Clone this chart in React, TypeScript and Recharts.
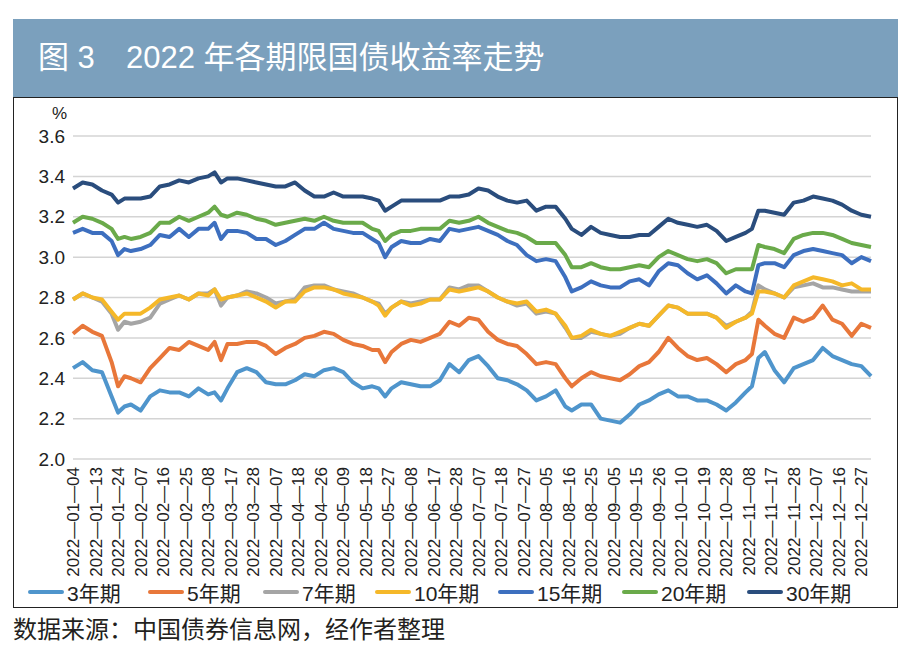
import { LineChart, Line, XAxis, YAxis, CartesianGrid } from 'recharts';

// trading-day index (0 = 2022-01-04, 248 = 2022-12-30)
const idx = [
  0, 3, 6, 9, 12,
  14, 16, 18,
  21, 24, 27, 30, 33, 36, 39, 42,
  44, 46, 48,
  51, 54, 57, 60, 63, 66, 69, 72, 75, 78, 81, 84, 87, 90, 93,
  95, 97, 99,
  102, 105, 108, 111, 114, 117, 120, 123, 126, 129, 132, 135, 138, 141, 144, 147, 150, 153,
  155, 158, 161, 164, 167, 170, 173, 176, 179, 182, 185, 188, 191, 194, 197, 200, 203, 206, 209,
  211, 213, 215,
  218, 221, 224, 227, 230, 233, 236, 239, 242, 245, 248,
];

const y3 = [
  2.45, 2.48, 2.44, 2.43, 2.31,
  2.23, 2.26, 2.27,
  2.24, 2.31, 2.34, 2.33, 2.33, 2.31, 2.35, 2.32,
  2.33, 2.29, 2.35,
  2.43, 2.45, 2.43, 2.38, 2.37, 2.37, 2.39, 2.42, 2.41, 2.44, 2.45, 2.43, 2.38, 2.35, 2.36,
  2.35, 2.31, 2.35,
  2.38, 2.37, 2.36, 2.36, 2.39, 2.47, 2.43, 2.49, 2.51, 2.46, 2.40, 2.39, 2.37, 2.34, 2.29, 2.31, 2.34, 2.26,
  2.24, 2.27, 2.27, 2.20, 2.19, 2.18, 2.22, 2.27, 2.29, 2.32, 2.34, 2.31, 2.31, 2.29, 2.29, 2.27, 2.24, 2.28, 2.33,
  2.36, 2.50, 2.53,
  2.44, 2.38, 2.45, 2.47, 2.49, 2.55, 2.51, 2.49, 2.47, 2.46, 2.41,
];

const y5 = [
  2.62, 2.66, 2.63, 2.61, 2.48,
  2.36, 2.41, 2.40,
  2.38, 2.45, 2.50, 2.55, 2.54, 2.58, 2.56, 2.54,
  2.58, 2.49, 2.57,
  2.57, 2.58, 2.58, 2.56, 2.52, 2.55, 2.57, 2.60, 2.61, 2.63, 2.62, 2.59, 2.57, 2.56, 2.54,
  2.54, 2.48, 2.53,
  2.57, 2.59, 2.58, 2.60, 2.62, 2.68, 2.66, 2.70, 2.69, 2.63, 2.59, 2.57, 2.56, 2.52, 2.47, 2.48, 2.47, 2.40,
  2.36, 2.40, 2.43, 2.41, 2.40, 2.39, 2.42, 2.46, 2.48, 2.53, 2.60, 2.55, 2.51, 2.49, 2.50, 2.47, 2.43, 2.47, 2.49,
  2.52, 2.69, 2.66,
  2.62, 2.60, 2.70, 2.68, 2.70, 2.76, 2.69, 2.67, 2.61, 2.67, 2.65,
];

const y7 = [
  2.79, 2.82, 2.80, 2.78, 2.72,
  2.64, 2.68, 2.67,
  2.68, 2.70, 2.77, 2.79, 2.81, 2.79, 2.82, 2.82,
  2.84, 2.76, 2.80,
  2.81, 2.83, 2.82, 2.80, 2.77, 2.78, 2.79, 2.85, 2.86, 2.86, 2.84, 2.83, 2.82, 2.80, 2.78,
  2.77, 2.72, 2.75,
  2.78, 2.77, 2.78, 2.79, 2.79, 2.85, 2.84, 2.86, 2.86, 2.83, 2.80, 2.78, 2.76, 2.77, 2.72, 2.73, 2.72, 2.65,
  2.60, 2.60, 2.63, 2.62, 2.61, 2.62, 2.65, 2.67, 2.66, 2.71, 2.76, 2.75, 2.72, 2.72, 2.72, 2.70, 2.66, 2.68, 2.70,
  2.73, 2.86, 2.84,
  2.82, 2.80, 2.85, 2.86, 2.87, 2.85, 2.85, 2.84, 2.83, 2.83, 2.83,
];

const y10 = [
  2.79, 2.82, 2.80, 2.79, 2.73,
  2.69, 2.72, 2.72,
  2.72, 2.75, 2.79, 2.80, 2.81, 2.79, 2.82, 2.81,
  2.84, 2.79, 2.80,
  2.81, 2.82, 2.80, 2.78, 2.75, 2.78, 2.78, 2.83, 2.85, 2.85, 2.84, 2.82, 2.81, 2.80, 2.78,
  2.76, 2.71, 2.75,
  2.78, 2.76, 2.77, 2.79, 2.79, 2.84, 2.83, 2.84, 2.85, 2.83, 2.80, 2.78, 2.77, 2.78, 2.73, 2.74, 2.72, 2.66,
  2.60, 2.61, 2.64, 2.62, 2.61, 2.63, 2.65, 2.67, 2.66, 2.71, 2.76, 2.75, 2.72, 2.72, 2.72, 2.70, 2.65, 2.68, 2.70,
  2.72, 2.83, 2.83,
  2.82, 2.80, 2.86, 2.88, 2.90, 2.89, 2.88, 2.86, 2.87, 2.84, 2.84,
];

const y15 = [
  3.12, 3.14, 3.12, 3.12, 3.08,
  3.01, 3.04, 3.03,
  3.04, 3.06, 3.11, 3.10, 3.14, 3.10, 3.14, 3.14,
  3.17, 3.09, 3.13,
  3.13, 3.12, 3.09, 3.09, 3.06, 3.08, 3.11, 3.14, 3.14, 3.17, 3.14, 3.13, 3.12, 3.12, 3.09,
  3.07, 3.00, 3.05,
  3.08, 3.07, 3.07, 3.09, 3.08, 3.14, 3.13, 3.14, 3.15, 3.13, 3.11, 3.08, 3.06, 3.01, 2.98, 2.99, 2.98, 2.90,
  2.83, 2.85, 2.88, 2.86, 2.85, 2.85, 2.88, 2.89, 2.86, 2.93, 2.97, 2.96, 2.92, 2.89, 2.91, 2.87, 2.82, 2.86, 2.83,
  2.82, 2.96, 2.97,
  2.97, 2.95, 3.01, 3.03, 3.04, 3.03, 3.02, 3.01, 2.97, 3.00, 2.98,
];

const y20 = [
  3.17, 3.20, 3.19, 3.17, 3.14,
  3.09, 3.10, 3.09,
  3.10, 3.12, 3.17, 3.17, 3.20, 3.18, 3.20, 3.22,
  3.25, 3.21, 3.20,
  3.22, 3.21, 3.19, 3.18, 3.16, 3.17, 3.18, 3.19, 3.18, 3.20, 3.18, 3.17, 3.17, 3.17, 3.14,
  3.13, 3.08, 3.11,
  3.13, 3.13, 3.14, 3.14, 3.14, 3.18, 3.17, 3.18, 3.20, 3.17, 3.15, 3.13, 3.12, 3.10, 3.07, 3.07, 3.07, 3.01,
  2.95, 2.95, 2.97, 2.95, 2.94, 2.94, 2.95, 2.96, 2.95, 3.00, 3.03, 3.01, 2.99, 2.98, 2.99, 2.97, 2.92, 2.94, 2.94,
  2.94, 3.06, 3.05,
  3.04, 3.02, 3.09, 3.11, 3.12, 3.12, 3.11, 3.09, 3.07, 3.06, 3.05,
];

const y30 = [
  3.34, 3.37, 3.36, 3.33, 3.31,
  3.27, 3.29, 3.29,
  3.29, 3.30, 3.35, 3.36, 3.38, 3.37, 3.39, 3.40,
  3.42, 3.37, 3.39,
  3.39, 3.38, 3.37, 3.36, 3.35, 3.35, 3.37, 3.33, 3.30, 3.30, 3.32, 3.30, 3.30, 3.30, 3.29,
  3.28, 3.23, 3.25,
  3.28, 3.28, 3.28, 3.28, 3.28, 3.30, 3.30, 3.31, 3.34, 3.33, 3.30, 3.28, 3.27, 3.28, 3.23, 3.25, 3.25, 3.19,
  3.14, 3.11, 3.15, 3.12, 3.11, 3.10, 3.10, 3.11, 3.11, 3.15, 3.19, 3.17, 3.16, 3.15, 3.16, 3.13, 3.08, 3.10, 3.12,
  3.14, 3.23, 3.23,
  3.22, 3.21, 3.27, 3.28, 3.30, 3.29, 3.28, 3.26, 3.23, 3.21, 3.20,
];

// one label every 7 trading days
const tickLabels = [
  '2022—01—04', '2022—01—13', '2022—01—24', '2022—02—07', '2022—02—16', '2022—02—25',
  '2022—03—08', '2022—03—17', '2022—03—28', '2022—04—07', '2022—04—18', '2022—04—26',
  '2022—05—09', '2022—05—18', '2022—05—27', '2022—06—08', '2022—06—17', '2022—06—28',
  '2022—07—07', '2022—07—18', '2022—07—27', '2022—08—05', '2022—08—16', '2022—08—25',
  '2022—09—05', '2022—09—15', '2022—09—26', '2022—10—10', '2022—10—19', '2022—10—28',
  '2022—11—08', '2022—11—17', '2022—11—28', '2022—12—07', '2022—12—16', '2022—12—27',
];

const yTicks = [2.0, 2.2, 2.4, 2.6, 2.8, 3.0, 3.2, 3.4, 3.6];

const series = [
  { key: 'y3', name: '3年期', color: '#4f95cc', values: y3 },
  { key: 'y5', name: '5年期', color: '#e8773a', values: y5 },
  { key: 'y7', name: '7年期', color: '#a5a5a5', values: y7 },
  { key: 'y10', name: '10年期', color: '#f5b829', values: y10 },
  { key: 'y15', name: '15年期', color: '#3d6fbf', values: y15 },
  { key: 'y20', name: '20年期', color: '#6aaa4a', values: y20 },
  { key: 'y30', name: '30年期', color: '#2a4d7d', values: y30 },
];

const rows = idx.map((d, k) => {
  const row: Record<string, number> = { d };
  series.forEach((s) => { row[s.key] = s.values[k]; });
  return row;
});

const tickIdx = tickLabels.map((_, k) => k * 7);

const LATIN = '"Liberation Sans", Arial, "Noto Sans CJK SC", sans-serif';

const DateTick = (props: any) => {
  const { x, y, payload } = props;
  const label = tickLabels[Math.round(payload.value / 7)];
  return (
    <g transform={`translate(${x},${y})`}>
      <text
        transform="rotate(-90)"
        x={0}
        y={0}
        dy="0.36em"
        textAnchor="end"
        fontSize={17}
        fontFamily={LATIN}
        fill="#222"
      >
        {label}
      </text>
    </g>
  );
};

const legendX = [28, 148, 263, 375, 498, 622, 747];

export default function App() {
  return (
    <div style={{ position: 'absolute', left: 0, top: 0, width: 908, height: 665, background: '#fff', overflow: 'hidden' }}>
      {/* title bar */}
      <div style={{ position: 'absolute', left: 13, top: 19, width: 885, height: 78, background: '#7ba0bd', color: '#fff', fontFamily: LATIN, fontSize: 31 }}>
        <span style={{ position: 'absolute', left: 25, top: 21, lineHeight: '36px' }}>图 3</span>
        <span style={{ position: 'absolute', left: 113, top: 21, lineHeight: '36px' }}>2022 年各期限国债收益率走势</span>
      </div>
      {/* frame */}
      <div style={{ position: 'absolute', left: 13, top: 97, width: 883, height: 509, border: '1.5px solid #222' }} />
      <div style={{ position: 'absolute', left: 52, top: 104, fontFamily: LATIN, fontSize: 17, color: '#222' }}>%</div>

      <div style={{ position: 'absolute', left: 0, top: 0 }}>
        <LineChart width={908} height={600} data={rows} margin={{ top: 136, right: 37, bottom: 11, left: 13 }}>
          <CartesianGrid vertical={false} stroke="#d4d4d4" strokeWidth={1.5} />
          <XAxis
            dataKey="d"
            type="number"
            domain={[0, 248]}
            ticks={tickIdx}
            interval={0}
            tick={<DateTick />}
            tickLine={false}
            axisLine={false}
            height={130}
          />
          <YAxis
            domain={[2.0, 3.6]}
            ticks={yTicks}
            interval={0}
            width={60}
            tickLine={false}
            axisLine={false}
            tickFormatter={(v: number) => v.toFixed(1)}
            tick={{ fill: '#222', fontSize: 19, fontFamily: LATIN }}
          />
          {series.map((s) => (
            <Line
              key={s.key}
              dataKey={s.key}
              name={s.name}
              type="linear"
              stroke={s.color}
              strokeWidth={4}
              strokeLinejoin="round"
              dot={false}
              isAnimationActive={false}
            />
          ))}
        </LineChart>
      </div>

      {/* legend */}
      {series.map((s, k) => (
        <div key={s.key} style={{ position: 'absolute', left: legendX[k], top: 578, height: 28, display: 'flex', alignItems: 'center' }}>
          <div style={{ width: 36, height: 4, borderRadius: 2, background: s.color }} />
          <span style={{ marginLeft: 3, fontFamily: LATIN, fontSize: 21, color: '#222' }}>{s.name}</span>
        </div>
      ))}

      <div style={{ position: 'absolute', left: 13, top: 614, fontFamily: LATIN, fontSize: 24, color: '#231f20', lineHeight: '32px' }}>
        数据来源：中国债券信息网，经作者整理
      </div>
    </div>
  );
}
